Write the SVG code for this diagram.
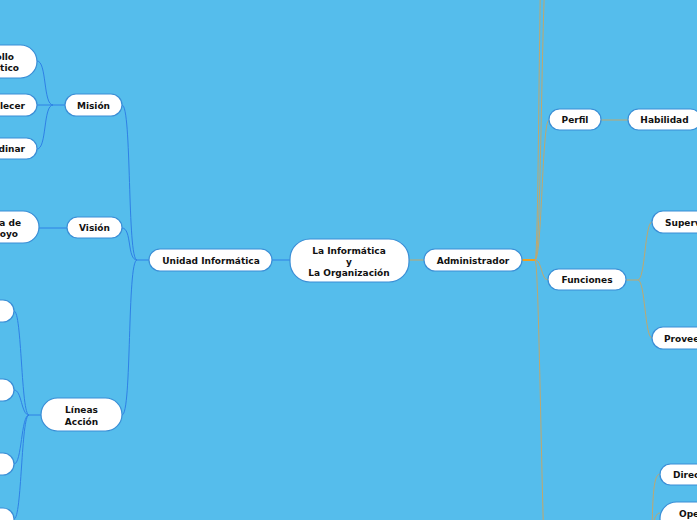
<svg xmlns="http://www.w3.org/2000/svg" width="697" height="520" viewBox="0 0 697 520">
<style>
.n rect{fill:#fff;stroke:#3a8ed6;stroke-width:1.2}
.n text{font-family:"DejaVu Sans",Verdana,sans-serif;font-weight:bold;font-size:9px;fill:#111;text-anchor:middle}
.n text.e{text-anchor:end}
.n text.s{text-anchor:start}
.cb{fill:none;stroke:#2e80e6;stroke-width:1}
.ct{fill:none;stroke:#bfa86e;stroke-width:1}
.co{fill:none;stroke:#f0a01e;stroke-width:2}
</style>
<rect width="697" height="520" fill="#55bdec"/>
<g id="connectors">
<path class="cb" d="M149,260 H137"/>
<path class="cb" d="M290,260 H272"/>
<path class="cb" d="M137,260 C127,260 132,105 122,105"/>
<path class="cb" d="M137,260 C127,260 132,228 122,228"/>
<path class="cb" d="M137,260 C127,260 132,415 122,415"/>
<path class="cb" d="M65,105 H53"/>
<path class="cb" d="M53,105 C43,105 47,61 37,61"/>
<path class="cb" d="M53,105 H37"/>
<path class="cb" d="M53,105 C43,105 47,149 37,149"/>
<path class="cb" d="M67,228 H39"/>
<path class="cb" d="M41,415 H29"/>
<path class="cb" d="M29,415 C21,415 22,311 14,311"/>
<path class="cb" d="M29,415 C21,415 22,390 14,390"/>
<path class="cb" d="M29,415 C21,415 22,464 14,464"/>
<path class="cb" d="M29,415 C21,415 22,519 14,519"/>
<path class="ct" d="M409,260 H424"/>
<path class="co" d="M522,260 H535"/>
<path class="ct" d="M535,260 C542,260 541,-60 549,-60"/>
<path class="ct" d="M535,260 C540,260 538,-200 549,-200"/>
<path class="ct" d="M535,260 C542,260 542,120 549,120"/>
<path class="ct" d="M535,260 C542,260 541,280 548,280"/>
<path class="ct" d="M535,260 C540,260 542,620 549,620"/>
<path class="ct" d="M601,120 H628"/>
<path class="ct" d="M626,280 H638"/>
<path class="ct" d="M638,280 C645,280 645,222 652,222"/>
<path class="ct" d="M638,280 C645,280 645,338 652,338"/>
<path class="ct" d="M652,560 C652,500 653,474 660,474"/>
<path class="ct" d="M652,560 C652,530 653,513 660,513"/>
</g>
<g id="central" class="n"><rect x="290" y="239" width="119" height="43" rx="20"/><text x="349" y="254">La Informática</text><text x="349" y="265">y</text><text x="349" y="276">La Organización</text></g>
<g id="unidad" class="n"><rect x="149" y="249" width="123" height="22" rx="11"/><text x="211" y="263.5">Unidad Informática</text></g>
<g id="mision" class="n"><rect x="65" y="94" width="57" height="22" rx="11"/><text x="93.5" y="108.5">Misión</text></g>
<g id="vision" class="n"><rect x="67" y="217" width="55" height="21" rx="10.5"/><text x="94.5" y="231">Visión</text></g>
<g id="lineas" class="n"><rect x="41" y="398" width="81" height="33" rx="16.5"/><text x="81.5" y="413">Líneas</text><text x="81.5" y="424.5">Acción</text></g>
<g id="m1" class="n"><rect x="-80" y="45" width="117" height="33" rx="16.5"/><text class="e" x="14" y="60">ollo</text><text class="e" x="19" y="71">tico</text></g>
<g id="m2" class="n"><rect x="-60" y="94" width="97" height="22" rx="11"/><text class="e" x="25" y="108.5">lecer</text></g>
<g id="m3" class="n"><rect x="-60" y="138" width="97" height="21" rx="10.5"/><text class="e" x="25" y="152">dinar</text></g>
<g id="v1" class="n"><rect x="-80" y="211" width="119" height="32" rx="16"/><text class="e" x="21" y="226">a de</text><text class="e" x="18" y="237">oyo</text></g>
<g id="l1" class="n"><rect x="-60" y="300" width="74" height="22" rx="11"/></g>
<g id="l2" class="n"><rect x="-60" y="379" width="74" height="22" rx="11"/></g>
<g id="l3" class="n"><rect x="-60" y="453" width="74" height="22" rx="11"/></g>
<g id="l4" class="n"><rect x="-60" y="508" width="74" height="22" rx="11"/></g>
<g id="admin" class="n"><rect x="424" y="249" width="98" height="22" rx="11"/><text x="473" y="263.5">Administrador</text></g>
<g id="perfil" class="n"><rect x="549" y="109" width="52" height="21" rx="10.5"/><text x="575" y="123">Perfil</text></g>
<g id="habilidad" class="n"><rect x="628" y="109" width="73" height="21" rx="10.5"/><text x="664.5" y="123">Habilidad</text></g>
<g id="funciones" class="n"><rect x="548" y="269" width="78" height="21" rx="10.5"/><text x="587" y="283">Funciones</text></g>
<g id="superv" class="n"><rect x="652" y="211" width="110" height="22" rx="11"/><text class="s" x="665" y="225.5">Superv</text></g>
<g id="provee" class="n"><rect x="652" y="327" width="110" height="22" rx="11"/><text class="s" x="664" y="341.5">Provee</text></g>
<g id="direc" class="n"><rect x="660" y="464" width="110" height="21" rx="10.5"/><text class="s" x="673" y="478">Direc</text></g>
<g id="ope" class="n"><rect x="660" y="502" width="110" height="33" rx="16.5"/><text class="s" x="679" y="516.5">Ope</text></g>
</svg>
